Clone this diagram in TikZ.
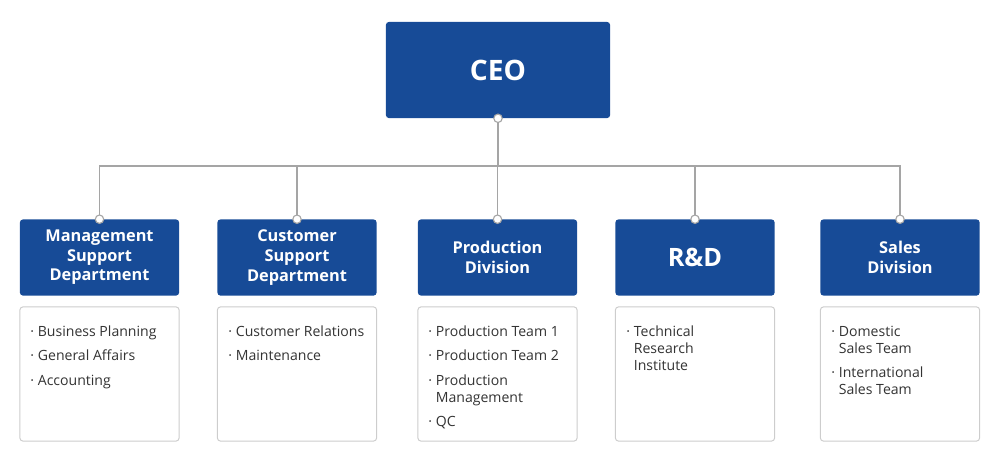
\documentclass[tikz,border=0pt]{standalone}
\usepackage{fontspec}
\setmainfont{Open Sans}
\usepackage{tikz}
\usetikzlibrary{positioning}
\definecolor{orgblue}{RGB}{23,75,151}
\definecolor{orgline}{RGB}{165,165,165}
\definecolor{orgframe}{RGB}{205,205,205}
\definecolor{orgtext}{RGB}{51,51,51}
\newcommand{\itm}[1]{\makebox[0.19cm][l]{·}#1}
\newcommand{\cnt}[1]{\hspace*{0.19cm}#1}
\tikzset{
  headbox/.style={fill=orgblue, rounded corners=2pt, text=white, align=center,
    font=\fontsize{11.6}{13.9}\selectfont\bfseries, minimum width=3.975cm, minimum height=1.9cm},
  listbox/.style={draw=orgframe, line width=0.7pt, fill=white, rounded corners=2pt,
    minimum width=3.975cm, minimum height=3.35cm},
  listtext/.style={anchor=north west, align=left, inner sep=0pt, text=orgtext,
    font=\fontsize{10}{12.1}\selectfont},
  link/.style={draw=orgline, line width=1pt},
  joint/.style={draw=orgline, line width=0.8pt, fill=white}
}
\begin{document}
\begin{tikzpicture}[x=0.025cm, y=-0.025cm]
			%%%%% START %%%%%
			\useasboundingbox (0, 0) rectangle (1000, 463);
			
			\node[headbox, minimum width=5.6cm, minimum height=2.4cm,
			  font=\fontsize{20}{24}\selectfont\bfseries] (ceo) at (498, 70) {CEO};
			
			\node[headbox] (mgmt) at (99.5, 257.5) {Management\\Support\\Department};
			\node[headbox] (cust) at (297, 257.5) {Customer\\Support\\Department};
			\node[headbox] (prod) at (497.5, 257.5) {Production\\Division};
			\node[headbox, font=\fontsize{18}{20}\selectfont\bfseries] (rnd) at (695, 257.5) {R\&D};
			\node[headbox] (sales) at (900, 257.5) {Sales\\Division};
			
			\node[listbox] (mgmtlist) at (99.5, 374) {};
			\node[listbox] (custlist) at (297, 374) {};
			\node[listbox] (prodlist) at (497.5, 374) {};
			\node[listbox] (rndlist) at (695, 374) {};
			\node[listbox] (saleslist) at (900, 374) {};
			
			\node[listtext] (mgmtitems) at (30, 325.5) {\itm{Business Planning}\\[5.3pt]
			  \itm{General Affairs}\\[5.3pt] \itm{Accounting}};
			\node[listtext] (custitems) at (228, 325.5) {\itm{Customer Relations}\\[5.3pt]
			  \itm{Maintenance}};
			\node[listtext] (proditems) at (428, 325.5) {\itm{Production Team 1}\\[5.3pt]
			  \itm{Production Team 2}\\[5.3pt] \itm{Production}\\ \cnt{Management}\\[5.3pt] \itm{QC}};
			\node[listtext] (rnditems) at (626, 325.5) {\itm{Technical}\\ \cnt{Research}\\ \cnt{Institute}};
			\node[listtext] (salesitems) at (831, 325.5) {\itm{Domestic}\\ \cnt{Sales Team}\\[5.3pt]
			  \itm{International}\\ \cnt{Sales Team}};
			
			\coordinate (bar) at (498, 166);
			\draw[link] (ceo.south) -- (bar);
			\foreach \d in {mgmt, cust, prod, rnd, sales}
			  \draw[link] (bar) -| (\d.north);
			
			\foreach \d in {ceo.south, mgmt.north, cust.north, prod.north, rnd.north, sales.north}
			  \draw[joint] (\d) circle (4.2);
			
			%%%%% END %%%%%
		\end{tikzpicture}
\end{document}
